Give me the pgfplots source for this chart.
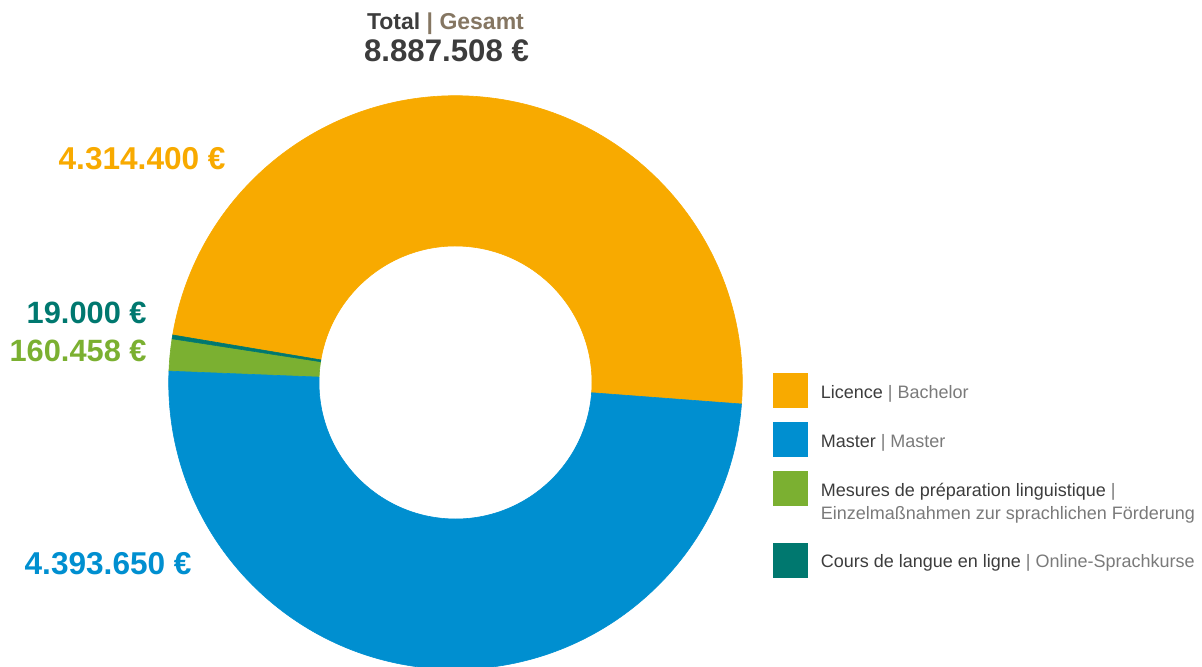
\documentclass[border=0pt]{standalone}
\usepackage{pgfplots}
\pgfplotsset{compat=1.18}
\usepackage{pgfplotstable}
\usepackage{fontspec}
\setmainfont{Liberation Sans}
\definecolor{licence}{HTML}{F8AA00}
\definecolor{master}{HTML}{008FD0}
\definecolor{langue}{HTML}{7BB031}
\definecolor{online}{HTML}{00786F}
\definecolor{dark}{HTML}{3C3C3C}
\definecolor{lgray}{HTML}{7A7A7A}
\definecolor{gesamt}{HTML}{857662}

\pgfplotstableread{
key value
licence 4314400
online 19000
langue 160458
master 4393650
}\budget

\newcommand\sector[3]{%
  \fill[#1,draw=#1,line width=0.3bp] (axis cs:455.5,382.5) ++(#2:143.4bp)
    arc[start angle=#2, end angle=#3, radius=143.4bp]
    -- ++({#3+180}:75.15bp)
    arc[start angle=#3, end angle=#2, radius=68.25bp] -- cycle;}

\begin{document}
\begin{tikzpicture}
\pgfplotstablegetelem{0}{value}\of\budget\edef\vA{\pgfplotsretval}
\pgfplotstablegetelem{1}{value}\of\budget\edef\vB{\pgfplotsretval}
\pgfplotstablegetelem{2}{value}\of\budget\edef\vC{\pgfplotsretval}
\pgfplotstablegetelem{3}{value}\of\budget\edef\vD{\pgfplotsretval}
\edef\tot{\fpeval{\vA+\vB+\vC+\vD}}
\def\sA{-4.3}
\edef\eA{\fpeval{round(\sA+360*\vA/\tot,3)}}
\edef\eB{\fpeval{round(\eA+360*\vB/\tot,3)}}
\edef\eC{\fpeval{round(\eB+360*\vC/\tot,3)}}
\edef\eD{\fpeval{round(\eC+360*\vD/\tot,3)}}
\begin{axis}[
  scale only axis, width=601bp, height=333.5bp,
  xmin=0, xmax=1202, ymin=0, ymax=667, y dir=reverse,
  hide axis,
  legend style={at={(axis cs:773,373)}, anchor=north west, draw=none, fill=none,
    inner sep=0pt, outer sep=0pt, row sep=7.15bp, column sep=6.5bp,
    font=\fontsize{9bp}{11.7bp}\selectfont,
    nodes={inner sep=0pt, outer sep=0pt, text=dark},
    cells={anchor=base west}},
]
\sector{licence}{\sA}{\eA}
\sector{langue}{\eB}{\eC}
\sector{master}{\eC}{\eD}
\sector{online}{\eA}{\eB}

\addlegendimage{legend image code/.code={\fill[licence] (0bp,-4.65bp) rectangle (17bp,12.35bp);}}
\addlegendentry{Licence \textcolor{lgray}{| Bachelor}}
\addlegendimage{legend image code/.code={\fill[master] (0bp,-4.65bp) rectangle (17bp,12.35bp);}}
\addlegendentry{Master \textcolor{lgray}{| Master}}
\addlegendimage{legend image code/.code={\fill[langue] (0bp,-4.65bp) rectangle (17bp,12.35bp); \path (0bp,-15.8bp);}}
\addlegendentry{\begin{tabular}[t]{@{}l@{}}Mesures de préparation linguistique \textcolor{lgray}{|}\\\textcolor{lgray}{Einzelmaßnahmen zur sprachlichen Förderung}\end{tabular}}
\addlegendimage{legend image code/.code={\fill[online] (0bp,-4.65bp) rectangle (17bp,12.35bp);}}
\addlegendentry{Cours de langue en ligne \textcolor{lgray}{| Online-Sprachkurse}}

\node[anchor=base, inner sep=0pt, text=dark, font=\bfseries\fontsize{11.5bp}{13bp}\selectfont] at (axis cs:445.5,29.3) {Total \textcolor{gesamt}{| Gesamt}};
\node[anchor=base, inner sep=0pt, text=dark, font=\bfseries\fontsize{15.6bp}{18bp}\selectfont] at (axis cs:446.5,62) {8.887.508 €};
\node[anchor=base east, inner sep=0pt, text=licence, font=\bfseries\fontsize{15.8bp}{18bp}\selectfont] at (axis cs:226,169) {4.314.400 €};
\node[anchor=base east, inner sep=0pt, text=online, font=\bfseries\fontsize{15.4bp}{18bp}\selectfont] at (axis cs:147,323) {19.000 €};
\node[anchor=base east, inner sep=0pt, text=langue, font=\bfseries\fontsize{15.4bp}{18bp}\selectfont] at (axis cs:147,361) {160.458 €};
\node[anchor=base east, inner sep=0pt, text=master, font=\bfseries\fontsize{15.8bp}{18bp}\selectfont] at (axis cs:192,574) {4.393.650 €};
\end{axis}
\pgfresetboundingbox
\path[use as bounding box] (current axis.south west) rectangle (current axis.north east);
\end{tikzpicture}
\end{document}
